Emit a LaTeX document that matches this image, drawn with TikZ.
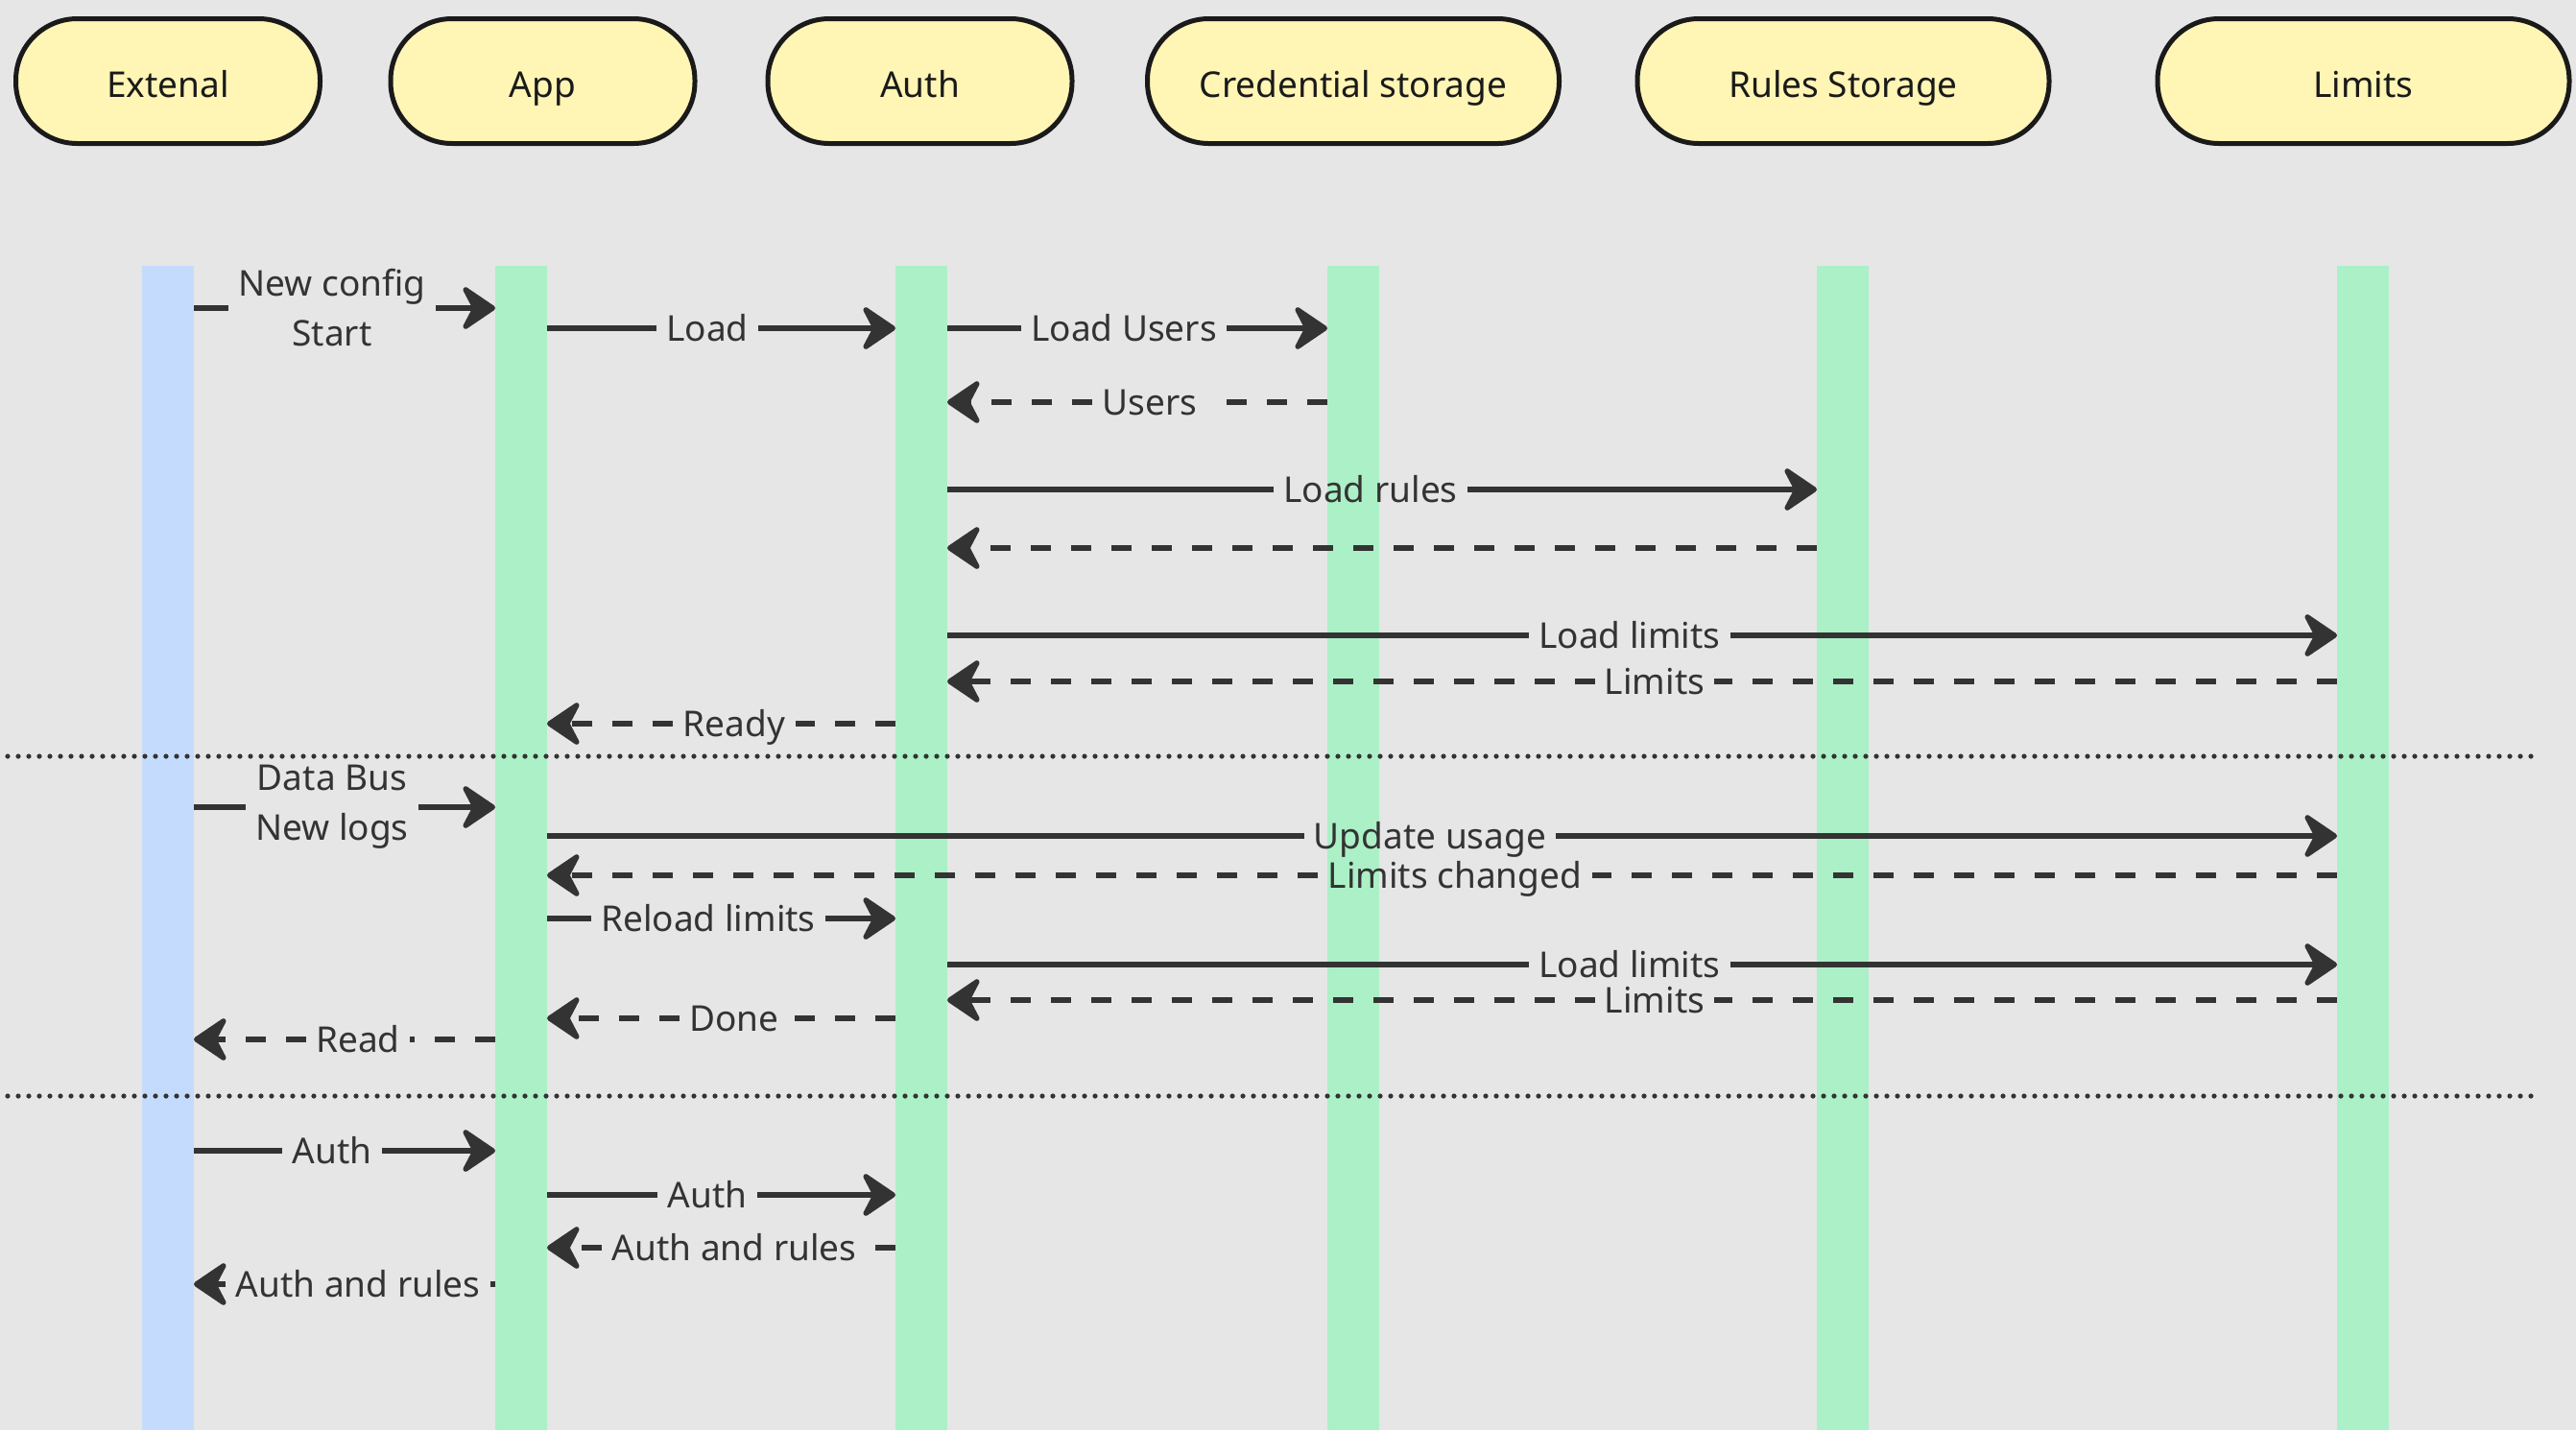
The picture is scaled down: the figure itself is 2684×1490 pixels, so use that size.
\documentclass[tikz,border=0pt]{standalone}
\usepackage{fontspec}
\setmainfont{Noto Sans}
\usetikzlibrary{positioning}
\usetikzlibrary{arrows.meta}
\definecolor{canvas}{RGB}{230,230,230}
\definecolor{hdrfill}{RGB}{255,245,181}
\definecolor{lifegreen}{RGB}{171,240,198}
\definecolor{lifeblue}{RGB}{197,219,253}
\definecolor{ink}{RGB}{51,51,51}
\definecolor{edge}{RGB}{26,26,26}
\newcommand{\seqfont}{\fontsize{18.5pt}{26pt}\selectfont}
\tikzstyle{actor} = [draw=edge, line width=2.5pt, fill=hdrfill, rounded corners=32pt, minimum width=158.5pt, minimum height=65pt, inner sep=0pt, text=edge, font=\seqfont, text height=20pt, text depth=3.5pt]
\tikzstyle{wide actor} = [actor, minimum width=214.5pt]
\tikzstyle{lifeline} = [anchor=north, minimum width=27pt, minimum height=606.5pt, inner sep=0pt, outer sep=0pt, fill=lifegreen]
\tikzstyle{msg} = [draw=ink, line width=2.7pt, >={Stealth[length=20pt,width=27pt,inset=7pt,round]}]
\tikzstyle{reply} = [msg, dash pattern=on 10.5pt off 10.5pt]
\tikzstyle{msgtext} = [text=ink, font=\seqfont, inner xsep=5pt, inner ysep=0pt, text height=18.2pt, text depth=5pt]
\tikzstyle{msgtext2} = [text=ink, font=\seqfont, inner xsep=5pt, inner ysep=0pt, align=center]
\tikzstyle{divider} = [draw=ink, line width=2.6pt, line cap=round, dash pattern=on 0pt off 5.5pt]
\begin{document}
\begin{tikzpicture}[x=0.5pt, y=-0.5pt]
\fill[canvas] (0,0) rectangle (2684,1490);
\useasboundingbox (0,0) rectangle (2684,1490);

% participants
\node[actor] (h-ext) at (175,84.5) {Extenal};
\node[actor] (h-app) at (565.5,84.5) {App};
\node[actor] (h-auth) at (958.5,84.5) {Auth};
\node[wide actor] (h-cred) at (1410,84.5) {Credential storage};
\node[wide actor] (h-rules) at (1920.5,84.5) {Rules Storage};
\node[wide actor] (h-lim) at (2462.5,84.5) {Limits};

% lifelines
\node[lifeline, fill=lifeblue] (ext) at (175,277) {};
\node[lifeline] (app) at (543,277) {};
\node[lifeline] (auth) at (960,277) {};
\node[lifeline] (cred) at (1410,277) {};
\node[lifeline] (rules) at (1920,277) {};
\node[lifeline] (lim) at (2462,277) {};

% phase separators
\draw[divider] (8,788) -- (2646,788);
\draw[divider] (8,1142) -- (2646,1142);

% startup
\node[msgtext2] (m1) at (346,321) {New config\\Start};
\draw[msg] (ext.east |- m1) -- (m1.west);
\draw[msg,->] (m1.east) -- (app.west |- m1);

\node[msgtext] (m2) at (737,342) {Load};
\draw[msg] (app.east |- m2) -- (m2.west);
\draw[msg,->] (m2.east) -- (auth.west |- m2);

\node[msgtext] (m3) at (1171,342) {Load Users};
\draw[msg] (auth.east |- m3) -- (m3.west);
\draw[msg,->] (m3.east) -- (cred.west |- m3);

\node[msgtext] (m4) at (1198,419) {Users};
\draw[reply] (cred.west |- m4) -- (m4.east);
\draw[reply,->] (m4.west) -- (auth.east |- m4);

\node[msgtext] (m5) at (1428,510) {Load rules};
\draw[msg] (auth.east |- m5) -- (m5.west);
\draw[msg,->] (m5.east) -- (rules.west |- m5);

\coordinate (m6) at (1440,571);
\draw[reply,->] (rules.west |- m6) -- (auth.east |- m6);

\node[msgtext] (m7) at (1698,662) {Load limits};
\draw[msg] (auth.east |- m7) -- (m7.west);
\draw[msg,->] (m7.east) -- (lim.west |- m7);

\node[msgtext] (m8) at (1724,710) {Limits};
\draw[reply] (lim.west |- m8) -- (m8.east);
\draw[reply,->] (m8.west) -- (auth.east |- m8);

\node[msgtext] (m9) at (765,754) {Ready};
\draw[reply] (auth.west |- m9) -- (m9.east);
\draw[reply,->] (m9.west) -- (app.east |- m9);

% new logs
\node[msgtext2] (m10) at (346,841) {Data Bus\\New logs};
\draw[msg] (ext.east |- m10) -- (m10.west);
\draw[msg,->] (m10.east) -- (app.west |- m10);

\node[msgtext] (m11) at (1490,871) {Update usage};
\draw[msg] (app.east |- m11) -- (m11.west);
\draw[msg,->] (m11.east) -- (lim.west |- m11);

\node[msgtext] (m12) at (1516,912) {Limits changed};
\draw[reply] (lim.west |- m12) -- (m12.east);
\draw[reply,->] (m12.west) -- (app.east |- m12);

\node[msgtext] (m13) at (738,957) {Reload limits};
\draw[msg] (app.east |- m13) -- (m13.west);
\draw[msg,->] (m13.east) -- (auth.west |- m13);

\node[msgtext] (m14) at (1698,1005) {Load limits};
\draw[msg] (auth.east |- m14) -- (m14.west);
\draw[msg,->] (m14.east) -- (lim.west |- m14);

\node[msgtext] (m15) at (1724,1042) {Limits};
\draw[reply] (lim.west |- m15) -- (m15.east);
\draw[reply,->] (m15.west) -- (auth.east |- m15);

\node[msgtext] (m16) at (765,1061) {Done};
\draw[reply] (auth.west |- m16) -- (m16.east);
\draw[reply,->] (m16.west) -- (app.east |- m16);

\node[msgtext] (m17) at (373,1083) {Read};
\draw[reply] (app.west |- m17) -- (m17.east);
\draw[reply,->] (m17.west) -- (ext.east |- m17);

% auth
\node[msgtext] (m18) at (346,1199) {Auth};
\draw[msg] (ext.east |- m18) -- (m18.west);
\draw[msg,->] (m18.east) -- (app.west |- m18);

\node[msgtext] (m19) at (737,1245) {Auth};
\draw[msg] (app.east |- m19) -- (m19.west);
\draw[msg,->] (m19.east) -- (auth.west |- m19);

\node[msgtext] (m20) at (765,1300) {Auth and rules};
\draw[reply] (auth.west |- m20) -- (m20.east);
\draw[reply,->] (m20.west) -- (app.east |- m20);

\node[msgtext] (m21) at (373,1338) {Auth and rules};
\draw[reply] (app.west |- m21) -- (m21.east);
\draw[reply,->] (m21.west) -- (ext.east |- m21);
\end{tikzpicture}
\end{document}
